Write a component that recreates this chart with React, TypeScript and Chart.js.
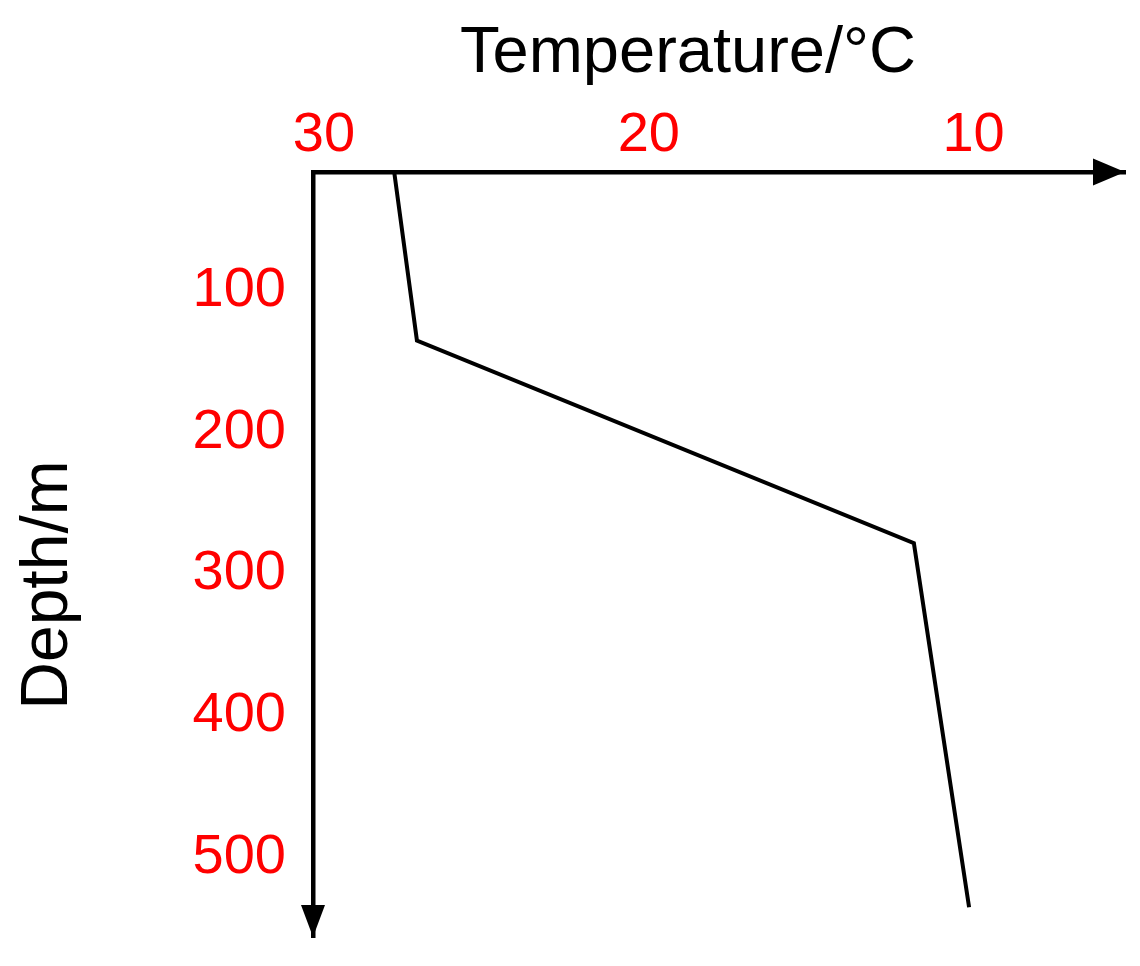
import React, { useEffect, useRef } from "react";
import { Chart, registerables } from "chart.js";

Chart.register(...registerables);

// ---- data ----
const temperatureC = [27.5, 26.8, 11.5, 9.8];
const depthM = [0, 119, 262, 519];
const xTickValues = [30, 20, 10];
const yTickValues = [100, 200, 300, 400, 500];
const xTitleText = "Temperature/°C";
const yTitleText = "Depth/m";

const FONT = "'Liberation Sans', Arial, Helvetica, sans-serif";

const arrowsAndTitles = {
  id: "arrowsAndTitles",
  afterDraw(chart: any) {
    const { ctx, chartArea } = chart;
    const { left, top, right, bottom } = chartArea;
    ctx.save();
    ctx.fillStyle = "#000";
    // arrowhead of temperature axis
    ctx.beginPath();
    ctx.moveTo(right, top);
    ctx.lineTo(right - 32, top - 13.5);
    ctx.lineTo(right - 32, top + 13.5);
    ctx.closePath();
    ctx.fill();
    // arrowhead of depth axis
    ctx.beginPath();
    ctx.moveTo(left, bottom);
    ctx.lineTo(left - 12, bottom - 32);
    ctx.lineTo(left + 12, bottom - 32);
    ctx.closePath();
    ctx.fill();
    // axis titles
    ctx.textAlign = "center";
    ctx.textBaseline = "alphabetic";
    ctx.font = `65px ${FONT}`;
    ctx.fillText(xTitleText, left + 375, top - 100);
    ctx.translate(left - 246, top + 413);
    ctx.rotate(-Math.PI / 2);
    ctx.font = `66px ${FONT}`;
    ctx.fillText(yTitleText, 0, 0);
    ctx.restore();
  },
};

export default function App() {
  const canvasRef = useRef<HTMLCanvasElement | null>(null);

  useEffect(() => {
    if (!canvasRef.current) return;
    const points = temperatureC.map((t, i) => ({ x: t, y: depthM[i] }));
    const chart = new Chart(canvasRef.current, {
      type: "scatter",
      data: {
        datasets: [
          {
            data: points,
            showLine: true,
            borderColor: "#000",
            backgroundColor: "#000",
            borderWidth: 4,
            pointRadius: 0,
            tension: 0,
            fill: false,
            clip: false as any,
          },
        ],
      },
      options: {
        animation: false,
        responsive: false,
        devicePixelRatio: 1,
        layout: { padding: { left: 0, top: 0, right: 15, bottom: 29 } },
        plugins: {
          legend: { display: false },
          tooltip: { enabled: false },
        },
        scales: {
          x: {
            type: "linear",
            position: "top",
            reverse: true,
            min: 5,
            max: 30,
            afterBuildTicks: (axis: any) => {
              axis.ticks = xTickValues.map((v) => ({ value: v }));
            },
            afterFit: (axis: any) => {
              axis.height = 172;
              axis.paddingLeft = 0;
              axis.paddingRight = 0;
            },
            grid: { display: false, drawTicks: false },
            border: { display: true, color: "#000", width: 4.5 },
            ticks: {
              color: "#ff0000",
              font: { family: FONT, size: 56, lineHeight: 1 },
              padding: 8,
              labelOffset: 11,
              maxRotation: 0,
              autoSkip: false,
            },
          },
          y: {
            type: "linear",
            position: "left",
            reverse: true,
            min: 0,
            max: 540,
            afterBuildTicks: (axis: any) => {
              axis.ticks = yTickValues.map((v) => ({ value: v }));
            },
            afterFit: (axis: any) => {
              axis.width = 313;
              axis.paddingTop = 0;
              axis.paddingBottom = 0;
            },
            grid: { display: false, drawTicks: false },
            border: { display: true, color: "#000", width: 4.5 },
            ticks: {
              color: "#ff0000",
              font: { family: FONT, size: 56, lineHeight: 1 },
              padding: 27,
              labelOffset: -23,
              autoSkip: false,
            },
          },
        },
      },
      plugins: [arrowsAndTitles],
    });
    return () => chart.destroy();
  }, []);

  return (
    <div style={{ position: "absolute", left: 0, top: 0, width: 1140, height: 966, background: "#fff" }}>
      <canvas ref={canvasRef} width={1140} height={966} style={{ display: "block" }} />
    </div>
  );
}
